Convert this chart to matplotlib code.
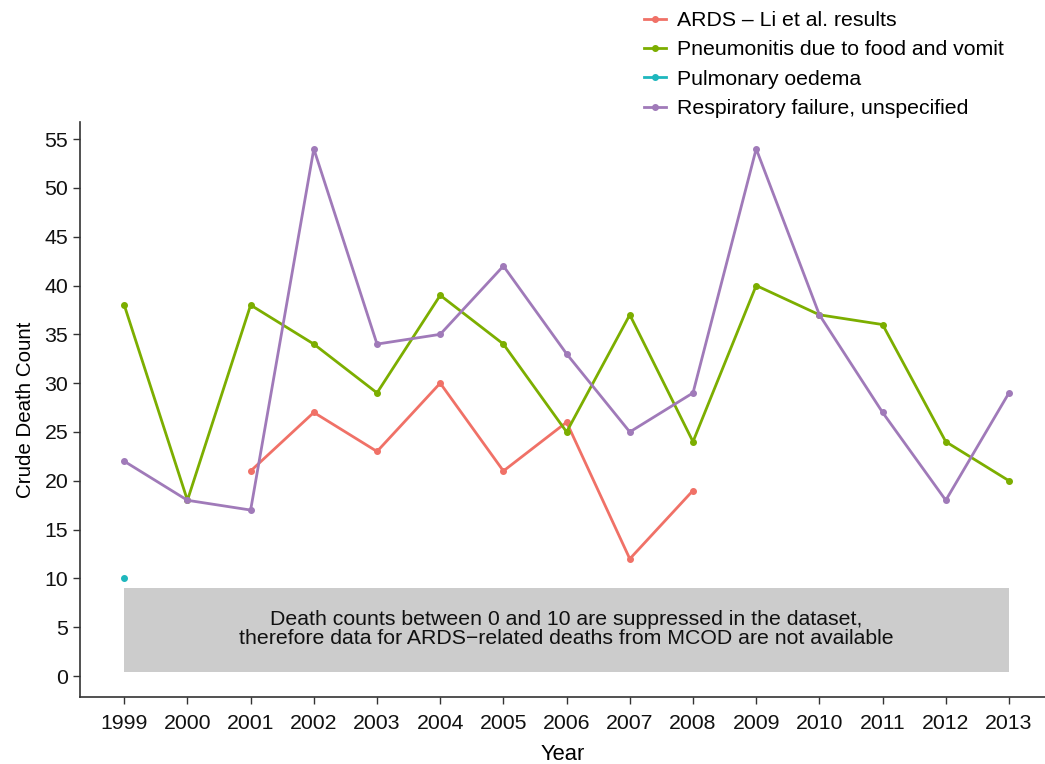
import numpy as np
import matplotlib.pyplot as plt
from matplotlib.lines import Line2D

plt.rcParams['font.family'] = ['Liberation Sans', 'DejaVu Sans']

years = list(range(1999, 2014))

ards_years = [2001, 2002, 2003, 2004, 2005, 2006, 2007, 2008]
ards = [21, 27, 23, 30, 21, 26, 12, 19]

pneumonitis = [38, 18, 38, 34, 29, 39, 34, 25, 37, 24, 40, 37, 36, 24, 20]

oedema_years = [1999]
oedema = [10]

resp_failure = [22, 18, 17, 54, 34, 35, 42, 33, 25, 29, 54, 37, 27, 18, 29]

labels = ["ARDS \u2013 Li et al. results",
          "Pneumonitis due to food and vomit",
          "Pulmonary oedema",
          "Respiratory failure, unspecified"]
colors = ["#F07167", "#7CAE00", "#1EB7BD", "#A07AB9"]

note = ("Death counts between 0 and 10 are suppressed in the dataset,\n"
        "therefore data for ARDS\u2212related deaths from MCOD are not available")

fs = 15.3

fig = plt.figure(figsize=(10.45, 7.64), dpi=100)
ax = fig.add_axes([80 / 1045, 67 / 764, 965 / 1045, 575 / 764])

# grey band covering the suppressed range
ax.fill_between([years[0], years[-1]], 0.4, 9.0, color="#CCCCCC", lw=0, zorder=1)
ax.text((years[0] + years[-1]) / 2, 4.8, note, ha="center", va="center",
        fontsize=fs, color="#111111", linespacing=1.0, zorder=2)

series = [(ards_years, ards), (years, pneumonitis), (oedema_years, oedema), (years, resp_failure)]
for (xs, ys), c in zip(series, colors):
    ax.plot(xs, ys, color=c, lw=2, marker="o", ms=4, zorder=3)

ax.set_xlim(1998.3, 2013.57)
ax.set_ylim(-2.15, 56.75)
ax.set_xticks(years)
ax.set_yticks(range(0, 56, 5))
ax.tick_params(axis="both", labelsize=fs, length=5, width=1, color="#333333", labelcolor="#111111")
ax.tick_params(axis="x", pad=7)
for side in ["top", "right"]:
    ax.spines[side].set_visible(False)
for side in ["left", "bottom"]:
    ax.spines[side].set_linewidth(1.2)
    ax.spines[side].set_color("#333333")

ax.set_xlabel("Year", fontsize=fs + 0.5, labelpad=8)
ax.set_ylabel("Crude Death Count", fontsize=fs - 0.5, labelpad=7)

handles = [Line2D([], [], color=c, lw=2, marker="o", ms=4) for c in colors]
fig.legend(handles, labels, loc="upper left", bbox_to_anchor=(629 / 1045, 1.005),
           frameon=False, fontsize=fs, handlelength=1.05, handletextpad=0.5,
           labelspacing=0.49, borderaxespad=0.3)

fig.savefig("out.png", dpi=100)
